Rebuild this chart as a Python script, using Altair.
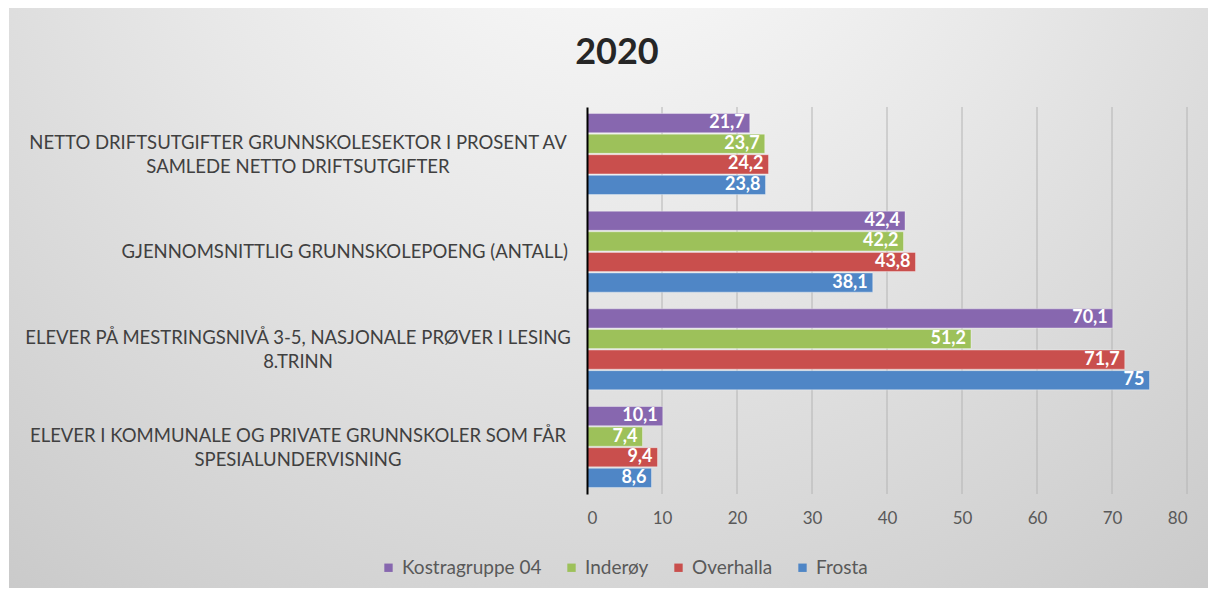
import altair as alt
import pandas as pd

# ---------------- data ----------------
categories = [
    "NETTO DRIFTSUTGIFTER GRUNNSKOLESEKTOR I PROSENT AV\nSAMLEDE NETTO DRIFTSUTGIFTER",
    "GJENNOMSNITTLIG GRUNNSKOLEPOENG (ANTALL)",
    "ELEVER PÅ MESTRINGSNIVÅ 3-5, NASJONALE PRØVER I LESING\n8.TRINN",
    "ELEVER I KOMMUNALE OG PRIVATE GRUNNSKOLER SOM FÅR\nSPESIALUNDERVISNING",
]
series = ["Kostragruppe 04", "Inderøy", "Overhalla", "Frosta"]
kostragruppe_04 = [21.7, 42.4, 70.1, 10.1]
inderoy = [23.7, 42.2, 51.2, 7.4]
overhalla = [24.2, 43.8, 71.7, 9.4]
frosta = [23.8, 38.1, 75, 8.6]
colors = ["#8767AF", "#9DC15A", "#C94F4D", "#4F86C6"]
x_ticks = [0, 10, 20, 30, 40, 50, 60, 70, 80]
title_text = "2020"

values = [kostragruppe_04, inderoy, overhalla, frosta]


def fmt(v):
    s = f"{v:g}"
    return s.replace(".", ",")


rows = []
for s, vals in zip(series, values):
    for c, v in zip(categories, vals):
        rows.append({"cat": c, "series": s, "value": v, "label": fmt(v)})
df = pd.DataFrame(rows)

cat_df = pd.DataFrame({"cat": categories, "multi": ["\n" in c for c in categories]})
grid_df = pd.DataFrame({"v": x_ticks[1:]})
bg_df = pd.DataFrame({"a": [0]})
title_df = pd.DataFrame({"t": [title_text]})

FONT = "Lato"

x_scale = alt.Scale(domain=[0, 80], nice=False)
y_scale = alt.Scale(paddingInner=0.171, paddingOuter=0.067)

gradient = {
    "gradient": "radial",
    "x1": 0.5, "y1": 0.08, "r1": 0,
    "x2": 0.5, "y2": 0.08, "r2": 0.95,
    "stops": [
        {"offset": 0, "color": "#ffffff"},
        {"offset": 0.4, "color": "#e8e8e8"},
        {"offset": 1, "color": "#c2c2c2"},
    ],
}

bg = alt.Chart(bg_df).mark_rect(color=gradient).encode(
    x=alt.value(-578), x2=alt.value(621), y=alt.value(-99), y2=alt.value(481)
)

title = alt.Chart(title_df).mark_text(
    align="center", baseline="middle", font=FONT, fontSize=36,
    fontWeight="bold", color="#262626",
).encode(x=alt.value(30), y=alt.value(-54), text="t:N")

grid = alt.Chart(grid_df).mark_rule(color="#b4b4b4", strokeWidth=1).encode(
    x=alt.X("v:Q", scale=x_scale)
)

bars = alt.Chart(df).mark_bar(stroke="#ffffff", strokeWidth=0.6, strokeOpacity=0.6).encode(
    x=alt.X(
        "value:Q",
        scale=x_scale,
        axis=alt.Axis(
            values=x_ticks, grid=False, domain=False, ticks=False, title=None,
            labelFont=FONT, labelFontSize=17, labelColor="#595959", labelPadding=16,
            zindex=1,
        ),
    ),
    y=alt.Y(
        "cat:N", sort=categories, scale=y_scale,
        axis=alt.Axis(labels=False, ticks=False, title=None, domainColor="#000000",
                      domainWidth=2, zindex=1),
    ),
    yOffset=alt.YOffset("series:N", sort=series, scale=alt.Scale(paddingInner=0.07)),
    color=alt.Color(
        "series:N",
        sort=series,
        scale=alt.Scale(domain=series, range=colors),
        legend=alt.Legend(
            orient="none", direction="horizontal", legendX=-208, legendY=451,
            title=None, symbolType="square", symbolSize=70, symbolStrokeWidth=0,
            labelFont=FONT, labelFontSize=19, labelColor="#595959",
            columnPadding=20, labelOffset=4,
        ),
    ),
)

value_text = alt.Chart(df).mark_text(
    align="right", baseline="middle", dx=-5, color="white",
    fontWeight="bold", fontSize=18, font=FONT,
).encode(
    x=alt.X("value:Q", scale=x_scale),
    y=alt.Y("cat:N", sort=categories, scale=y_scale),
    yOffset=alt.YOffset("series:N", sort=series),
    text="label:N",
)

cat_multi = alt.Chart(cat_df).transform_filter("datum.multi").mark_text(
    align="center", baseline="middle", lineBreak="\n", lineHeight=24, dy=-11,
    font=FONT, fontSize=18.5, color="#404040",
).encode(
    x=alt.value(-289),
    y=alt.Y("cat:N", sort=categories, scale=y_scale),
    text="cat:N",
)

cat_single = alt.Chart(cat_df).transform_filter("!datum.multi").mark_text(
    align="right", baseline="middle",
    font=FONT, fontSize=18.5, color="#404040",
).encode(
    x=alt.value(-19),
    y=alt.Y("cat:N", sort=categories, scale=y_scale),
    text="cat:N",
)

chart = alt.layer(bg, title, grid, bars, value_text, cat_multi, cat_single).properties(
    width=600,
    height=387,
    autosize=alt.AutoSizeParams(type="none"),
    padding={"left": 579, "top": 99, "right": 21, "bottom": 94},
).configure_view(stroke=None).configure(background="#ffffff")

chart.save("out.html", embed_options={"renderer": "svg", "actions": False})
